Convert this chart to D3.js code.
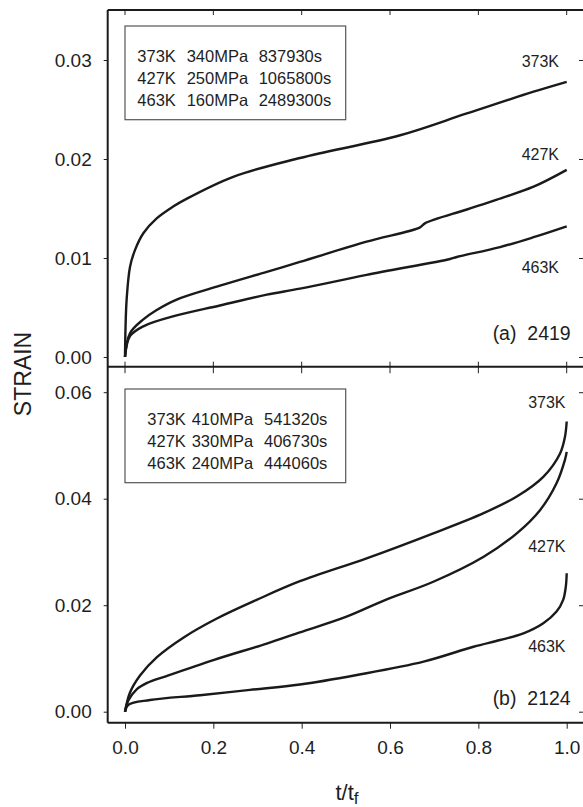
<!DOCTYPE html>
<html>
<head>
<meta charset="utf-8">
<script src="https://cdnjs.cloudflare.com/ajax/libs/d3/7.8.5/d3.min.js"></script>
<style>
  body { margin: 0; background: #fff; }
  svg { display: block; font-family: "Liberation Sans", Arial, sans-serif; }
  text { fill: #1e1e1e; }
</style>
</head>
<body>
<svg id="chart" width="583" height="807"></svg>
<script>
// x ticks (t/tf)
var xTicks = [0, 0.2, 0.4, 0.6, 0.8, 1.0];
var yTicksA = [0, 0.01, 0.02, 0.03];
var yTicksB = [0, 0.02, 0.04, 0.06];

// (a) 2419, [t/tf, strain]
var a373 = [[0,0],[0.0012,0.0030],[0.0037,0.0058],[0.0113,0.0091],[0.0226,0.0108],[0.0415,0.0125],[0.0717,0.0140],[0.109,0.0152],[0.136,0.0159],[0.245,0.0182],[0.396,0.0201],[0.623,0.0224],[0.774,0.0246],[0.925,0.0268],[1.0,0.0278]];
var a427 = [[0,0],[0.0113,0.0024],[0.0415,0.0038],[0.07,0.0047],[0.117,0.0058],[0.215,0.0072],[0.321,0.0086],[0.396,0.0096],[0.547,0.01165],[0.668,0.0131],[0.679,0.0135],[0.774,0.0149],[0.842,0.0159],[0.925,0.0172],[1.0,0.0189]];
var a463 = [[0,0],[0.0113,0.0021],[0.0415,0.0031],[0.117,0.0042],[0.215,0.0052],[0.321,0.0063],[0.396,0.0069],[0.547,0.0083],[0.736,0.0099],[0.751,0.0101],[0.849,0.0111],[0.925,0.0121],[1.0,0.0132]];

// (b) 2124
var b373 = [[0,0],[0.0113,0.0036],[0.034,0.0068],[0.0717,0.0102],[0.132,0.0139],[0.208,0.0175],[0.298,0.0210],[0.396,0.0245],[0.547,0.0288],[0.698,0.0335],[0.812,0.0373],[0.887,0.0404],[0.947,0.0441],[0.985,0.0485],[0.996,0.0516],[1.0,0.0545]];
var b427 = [[0,0],[0.0075,0.0021],[0.0264,0.0042],[0.05,0.0054],[0.094,0.0067],[0.2,0.0097],[0.321,0.0128],[0.396,0.0149],[0.5,0.0178],[0.59,0.0210],[0.698,0.0244],[0.812,0.0291],[0.887,0.0335],[0.94,0.0379],[0.977,0.0429],[0.996,0.0473],[1.0,0.0488]];
var b463 = [[0,0],[0.0075,0.0013],[0.0566,0.0022],[0.17,0.0031],[0.283,0.0041],[0.396,0.0051],[0.525,0.0069],[0.676,0.0094],[0.789,0.0122],[0.849,0.01346],[0.902,0.0147],[0.947,0.0166],[0.977,0.0188],[0.992,0.0210],[0.998,0.0235],[1.0,0.0260]];

var legendA = [["373K", "340MPa", "837930s"], ["427K", "250MPa", "1065800s"], ["463K", "160MPa", "2489300s"]];
var legendB = [["373K", "410MPa", "541320s"], ["427K", "330MPa", "406730s"], ["463K", "240MPa", "444060s"]];

var svg = d3.select("#chart");

var left = 107.7, right = 585;
var topA = 10, mid = 366.7, bottomB = 722.7;

var x = d3.scaleLinear().domain([0, 1]).range([125, 566.7]);
var yA = d3.scaleLinear().domain([0, 0.03]).range([357, 60]);
var yB = d3.scaleLinear().domain([0, 0.06]).range([711.7, 392.2]);

var fmt = d3.format(".2f");

function drawPanel(y, ticks, series, labels, legend, legendTop, cols, title, titleY) {
  // left axis, outward ticks
  var gl = svg.append("g").attr("transform", "translate(" + left + ",0)")
    .call(d3.axisLeft(y).tickValues(ticks).tickFormat(fmt).tickSize(4).tickPadding(12));
  gl.select(".domain").remove();
  gl.selectAll("line").attr("stroke", "#222").attr("stroke-width", 1);
  gl.selectAll("text").attr("font-size", 19).attr("font-family", null).attr("fill", "#1e1e1e");

  // right axis, inward ticks
  var gr = svg.append("g").attr("transform", "translate(583,0)")
    .call(d3.axisLeft(y).tickValues(ticks).tickFormat("").tickSize(4));
  gr.select(".domain").remove();
  gr.selectAll("line").attr("stroke", "#222").attr("stroke-width", 1);

  var line = d3.line()
    .x(function(d) { return x(d[0]); })
    .y(function(d) { return y(d[1]); })
    .curve(d3.curveCatmullRom.alpha(0.5));

  for (var i = 0; i < series.length; i++) {
    svg.append("path")
      .attr("d", line(series[i]))
      .attr("fill", "none")
      .attr("stroke", "#1a1a1a")
      .attr("stroke-width", 2.4)
      .attr("stroke-linejoin", "round");
  }

  for (var j = 0; j < labels.length; j++) {
    svg.append("text")
      .attr("x", labels[j].x).attr("y", labels[j].y)
      .attr("text-anchor", "end")
      .attr("font-size", 16)
      .text(labels[j].t);
  }

  // legend box
  svg.append("rect")
    .attr("x", 125).attr("y", legendTop)
    .attr("width", 220.7).attr("height", 93.7)
    .attr("fill", "#fff").attr("stroke", "#555").attr("stroke-width", 1.2);
  for (var r = 0; r < legend.length; r++) {
    for (var c = 0; c < 3; c++) {
      svg.append("text")
        .attr("x", cols[c]).attr("y", legendTop + 36.3 + r * 21.9)
        .attr("font-size", 16.5)
        .text(legend[r][c]);
    }
  }

  svg.append("text")
    .attr("x", 570.7).attr("y", titleY)
    .attr("text-anchor", "end")
    .attr("font-size", 19.5)
    .style("white-space", "pre")
    .text(title);
}

drawPanel(yA, yTicksA, [a373, a427, a463],
  [{t: "373K", x: 559, y: 66.7}, {t: "427K", x: 559, y: 160}, {t: "463K", x: 559, y: 273}],
  legendA, 26, [137.3, 186.7, 258.7], "(a)  2419", 340);

drawPanel(yB, yTicksB, [b373, b427, b463],
  [{t: "373K", x: 565.5, y: 407.7}, {t: "427K", x: 565.5, y: 551.7}, {t: "463K", x: 565.5, y: 652}],
  legendB, 389, [147.3, 191.7, 264], "(b)  2124", 705);

// x ticks: top of (a), middle line, bottom of (b)
svg.append("g").selectAll("line").data(xTicks).enter().append("line")
  .attr("x1", x).attr("x2", x).attr("y1", topA).attr("y2", topA + 5)
  .attr("stroke", "#222");
svg.append("g").selectAll("line").data(xTicks).enter().append("line")
  .attr("x1", x).attr("x2", x).attr("y1", mid - 5).attr("y2", mid + 6.5)
  .attr("stroke", "#222");

var gx = svg.append("g").attr("transform", "translate(0," + bottomB + ")")
  .call(d3.axisBottom(x).tickValues(xTicks).tickFormat(d3.format(".1f")).tickSize(6).tickPadding(12));
gx.select(".domain").remove();
gx.selectAll("line").attr("stroke", "#222");
gx.selectAll("text").attr("font-size", 19).attr("font-family", null).attr("fill", "#1e1e1e");

// frame
var frame = svg.append("g").attr("stroke", "#1a1a1a").attr("stroke-width", 2).attr("fill", "none");
frame.append("line").attr("x1", left).attr("x2", left).attr("y1", topA).attr("y2", bottomB);
frame.append("line").attr("x1", left).attr("x2", right).attr("y1", topA).attr("y2", topA);
frame.append("line").attr("x1", left).attr("x2", right).attr("y1", mid).attr("y2", mid);
frame.append("line").attr("x1", left).attr("x2", right).attr("y1", bottomB).attr("y2", bottomB);

// axis titles
svg.append("text")
  .attr("transform", "translate(31,374) rotate(-90)")
  .attr("text-anchor", "middle")
  .attr("font-size", 23)
  .text("STRAIN");

var xt = svg.append("text")
  .attr("x", 347).attr("y", 800)
  .attr("text-anchor", "middle")
  .attr("font-size", 22);
xt.append("tspan").text("t/t");
xt.append("tspan").attr("dy", 4).attr("font-size", 17).text("f");
</script>
</body>
</html>
